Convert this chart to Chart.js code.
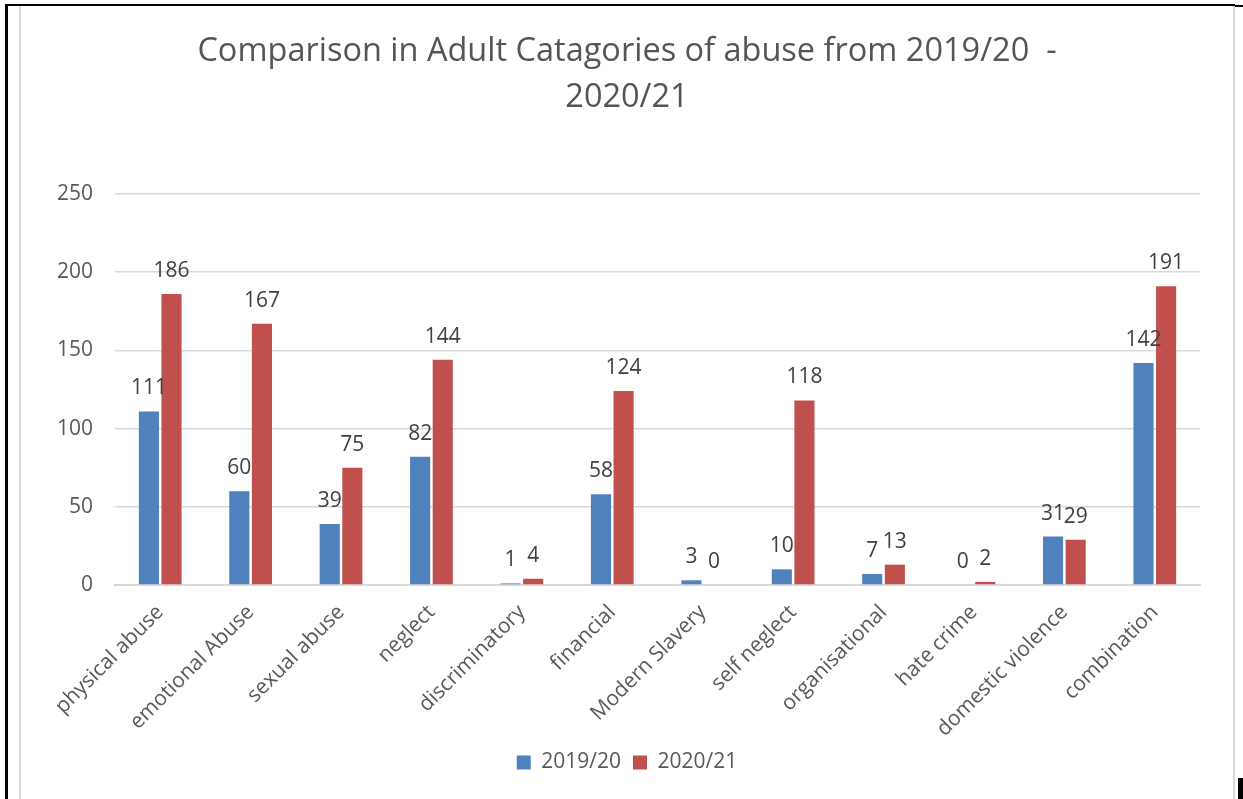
<!DOCTYPE html>
<html>
<head>
<meta charset="utf-8">
<script src="https://cdn.jsdelivr.net/npm/chart.js@4"></script>
<style>
  html, body { margin: 0; padding: 0; background: #fff; }
  #wrap { position: relative; width: 1243px; height: 799px; overflow: hidden; }
  #wrap canvas { position: absolute; left: 0; top: 0; }
  .rule { position: absolute; pointer-events: none; }
</style>
</head>
<body>
<div id="wrap">
  <canvas id="abuse-chart" width="1243" height="799"></canvas>
  <!-- page frame around the chart -->
  <div class="rule" style="left:5px;top:4px;width:3px;height:795px;background:#000"></div>
  <div class="rule" style="left:5px;top:4px;width:1230px;height:2px;background:#000"></div>
  <div class="rule" style="left:1235px;top:5px;width:8px;height:2px;background:#000"></div>
  <div class="rule" style="left:19px;top:6px;width:2px;height:793px;background:#d9d9d9"></div>
  <div class="rule" style="left:1233px;top:6px;width:2px;height:793px;background:#d9d9d9"></div>
  <div class="rule" style="left:1238px;top:778px;width:5px;height:21px;background:#000"></div>
</div>
<script>
  // categories and yearly counts
  const categories = [
    'physical abuse', 'emotional Abuse', 'sexual abuse', 'neglect', 'discriminatory',
    'financial', 'Modern Slavery', 'self neglect', 'organisational', 'hate crime',
    'domestic violence', 'combination'
  ];
  const counts2019 = [111, 60, 39, 82, 1, 58, 3, 10, 7, 0, 31, 142];
  const counts2020 = [186, 167, 75, 144, 4, 124, 0, 118, 13, 2, 29, 191];
  const yTicks = [0, 50, 100, 150, 200, 250];

  const FONT = "'Open Sans', 'Noto Sans', sans-serif";

  // values written above each bar
  const barValueLabels = {
    id: 'barValueLabels',
    afterDatasetsDraw(chart) {
      const ctx = chart.ctx;
      ctx.save();
      ctx.font = `21px ${FONT}`;
      ctx.fillStyle = '#404040';
      ctx.textAlign = 'center';
      ctx.textBaseline = 'alphabetic';
      chart.data.datasets.forEach((ds, i) => {
        chart.getDatasetMeta(i).data.forEach((bar, j) => {
          ctx.fillText(String(ds.data[j]), bar.x, bar.y - 17);
        });
      });
      ctx.restore();
    }
  };

  new Chart(document.getElementById('abuse-chart'), {
    type: 'bar',
    data: {
      labels: categories,
      datasets: [
        { label: '2019/20', data: counts2019, backgroundColor: '#4F81BD' },
        { label: '2020/21', data: counts2020, backgroundColor: '#C0504D' }
      ]
    },
    options: {
      responsive: false,
      animation: false,
      categoryPercentage: 0.5,
      barPercentage: 0.89,
      layout: { padding: { top: 29, left: 54, right: 43, bottom: 16 } },
      plugins: {
        title: {
          display: true,
          text: ['Comparison in Adult Catagories of abuse from 2019/20  -', '2020/21'],
          color: '#555555',
          font: { family: FONT, size: 32.5, weight: 'normal', lineHeight: 46 / 32.5 },
          padding: { top: 0, bottom: 73 }
        },
        legend: {
          position: 'bottom',
          labels: {
            color: '#595959',
            font: { family: FONT, size: 21 },
            boxWidth: 14,
            boxHeight: 14,
            padding: 12
          }
        },
        tooltip: { enabled: false }
      },
      scales: {
        x: {
          grid: { display: false, drawTicks: false },
          border: { color: '#d9d9d9', width: 2 },
          ticks: {
            color: '#595959',
            font: { family: FONT, size: 21 },
            minRotation: 45,
            maxRotation: 45,
            autoSkip: false,
            padding: 15
          },
          afterFit: (s) => { s.height = 155; }
        },
        y: {
          min: 0,
          max: 250,
          afterBuildTicks: (s) => { s.ticks = yTicks.map(v => ({ value: v })); },
          grid: { color: '#d9d9d9', lineWidth: 1.5, drawTicks: false },
          border: { display: false },
          ticks: {
            color: '#595959',
            font: { family: FONT, size: 21 },
            padding: 22
          },
          afterFit: (s) => { s.width = 61; }
        }
      }
    },
    plugins: [barValueLabels]
  });
</script>
</body>
</html>
